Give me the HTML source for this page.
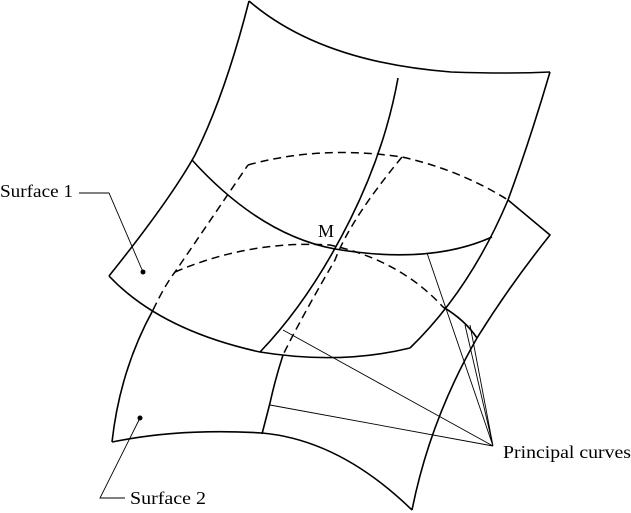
<!DOCTYPE html>
<html><head><style>html,body{margin:0;padding:0;background:#fff}svg{display:block}</style></head>
<body>
<svg width="631" height="513" viewBox="0 0 631 513" xmlns="http://www.w3.org/2000/svg" font-family="Liberation Serif, serif" font-size="18">
<g fill="none" stroke="#000" stroke-width="1.6" stroke-linejoin="round">
<path d="M249,1 Q320,62 451,72 Q510,74 550,72"/>
<path d="M550,72 Q530,140 508,200 Q470,290 410,348"/>
<path d="M410,348 Q340,365 260,352 Q160,330 109,276"/>
<path d="M109,276 Q170,200 195,155 Q225,95 249,1"/>
<path d="M398,78 Q385,150 350,220 Q310,300 260,352"/>
<path d="M192,160 Q260,235 335,249 Q430,265 492,237"/>
<path d="M508,200 L550,235 Q510,285 477,338 Q430,420 412,510"/>
<path d="M412,510 Q340,440 262,433 Q180,428 112,442"/>
<path d="M112,442 Q120,370 153,310"/>
<path d="M443,307 Q465,320 477,338"/>
<path d="M283,355 Q275,380 270,403 L262,434"/>
</g>
<g fill="none" stroke="#000" stroke-width="1.5" stroke-dasharray="8,5">
<path d="M153,310 Q165,285 175,272 L248,165"/>
<path d="M248,165 Q320,145 402,157 Q460,170 508,200"/>
<path d="M402,157 Q350,220 335,260 Q300,320 283,355"/>
<path d="M175,272 Q250,240 330,245 Q400,260 443,307"/>
</g>
<g fill="none" stroke="#000" stroke-width="0.9">
<path d="M79,193 L109,193 L143,272"/>
<path d="M140,418 L100,498 L125,498"/>
<path d="M283,330 L493,446 M270,405 L493,446 M427,253 L493,446 M465,325 L493,446 M470,325 L493,446"/>
</g>
<circle cx="143" cy="272" r="2.5"/>
<circle cx="140" cy="418" r="2.5"/>
<text x="0" y="197" textLength="73" lengthAdjust="spacingAndGlyphs">Surface 1</text>
<text x="130" y="504" textLength="76" lengthAdjust="spacingAndGlyphs">Surface 2</text>
<text x="503" y="458" textLength="128" lengthAdjust="spacingAndGlyphs">Principal curves</text>
<text x="318" y="237">M</text>
</svg>
</body></html>
